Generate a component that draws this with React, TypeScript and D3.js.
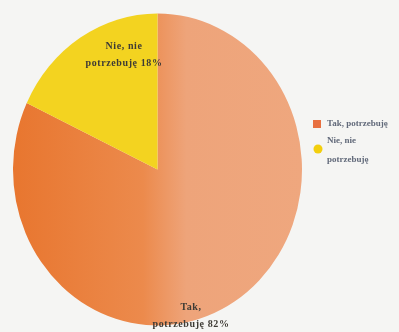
import React from "react";
import * as d3 from "d3";

const categories = ["Tak, potrzebuję", "Nie, nie potrzebuję"];
const values = [82, 18];
const legendLines = [["Tak, potrzebuję"], ["Nie, nie", "potrzebuję"]];
const sliceLabelLines = [["Tak,", "potrzebuję 82%"], ["Nie, nie", "potrzebuję 18%"]];

const W = 399, H = 332;
const cx = 157.5, cy = 169.5, rx = 144.5, ry = 156;

export default function App() {
  const pie = d3.pie<number>().sort(null).value((d) => d);
  const arcs = pie(values);
  const arcGen = d3.arc<d3.PieArcDatum<number>>().innerRadius(0).outerRadius(rx);
  const sy = ry / rx;
  const labelPos = [
    { x: 191, y: 310 },
    { x: 124, y: 49 },
  ];
  return (
    <svg width={W} height={H} style={{ position: "absolute", left: 0, top: 0, background: "#f5f5f3" }}>
      <defs>
        <linearGradient id="og" x1="0" y1="0" x2="1" y2="0">
          <stop offset="0" stopColor="#e8762f" />
          <stop offset="0.45" stopColor="#ec8a4c" />
          <stop offset="0.6" stopColor="#eea47a" />
          <stop offset="1" stopColor="#efa77e" />
        </linearGradient>
        <filter id="blur"><feGaussianBlur stdDeviation="0.45" /></filter>
      </defs>
      <rect width={W} height={H} fill="#f5f5f3" />
      <g transform={`translate(${cx},${cy}) scale(1,${sy})`}>
        {arcs.map((a, i) => (
          <path key={categories[i]} d={arcGen(a) || ""} fill={i === 0 ? "url(#og)" : "#f3d320"} />
        ))}
      </g>
      <g filter="url(#blur)" fontFamily="Liberation Serif" fontSize={10} fontWeight="bold" fill="#3e3b35" letterSpacing={0.6}>
        {sliceLabelLines.map((lines, i) => (
          <text key={i} textAnchor="middle" x={labelPos[i].x} y={labelPos[i].y}>
            {lines.map((l, j) => (
              <tspan key={j} x={labelPos[i].x} dy={j === 0 ? 0 : 17}>{l}</tspan>
            ))}
          </text>
        ))}
      </g>
      <g filter="url(#blur)" fontFamily="Liberation Serif" fontSize={9} fontWeight="bold" fill="#626a7a">
        <rect x={313} y={120} width={8} height={8} fill="#e87040" />
        <circle cx={318} cy={149} r={4.5} fill="#f3cf10" />
        {legendLines.map((lines, i) => (
          <text key={i} x={327} y={i === 0 ? 126 : 143}>
            {lines.map((l, j) => (
              <tspan key={j} x={327} dy={j === 0 ? 0 : 19}>{l}</tspan>
            ))}
          </text>
        ))}
      </g>
    </svg>
  );
}
